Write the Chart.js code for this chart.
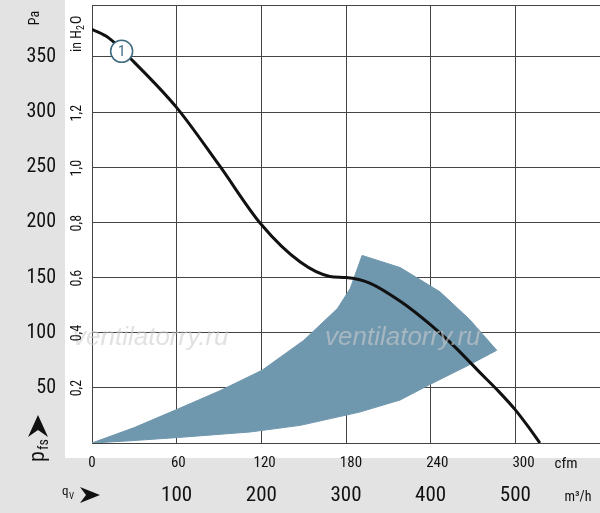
<!DOCTYPE html><html><head><meta charset="utf-8">
<script src="https://cdn.jsdelivr.net/npm/chart.js@4"></script>
<style>html,body{margin:0;padding:0;background:#fff}#w{width:600px;height:513px}</style></head><body>
<div id="w"><canvas id="c"></canvas></div>
<script>
// data (x: m³/h, y: Pa)
const curveQ = [0, 20, 50, 100, 150, 200, 246, 281, 300, 328, 365, 400, 430, 458, 480, 500, 515, 529];
const curveP = [375, 367, 345, 304, 252, 198, 164, 151, 150, 145, 128, 107, 86, 64, 47, 30, 15, 0];
const areaQ = [0, 50, 102, 150, 201, 250, 290, 305, 319, 364, 411, 446, 478, 446, 399, 364, 316, 246, 187, 102, 45, 0];
const areaP = [0, 14, 31, 47, 66, 93, 122, 140, 170, 159, 137, 112, 84, 71, 53, 39, 28, 16, 10, 5, 2, 0];
const paTicks = [50, 100, 150, 200, 250, 300, 350];
const inTicks = ['0,2', '0,4', '0,6', '0,8', '1,0', '1,2'];
const cfmTicks = [0, 60, 120, 180, 240, 300];
const m3hTicks = [100, 200, 300, 400, 500];
const FONT = "'Liberation Sans Narrow','Roboto Condensed','Liberation Sans',sans-serif";

const deco = {
  id: 'deco',
  beforeDraw(ch) {
    const c = ch.ctx;
    c.save();
    c.fillStyle = '#e3e3e3';
    c.fillRect(0, 0, 65, 513);
    c.fillRect(0, 458, 600, 55);
    c.restore();
  },
  afterDraw(ch) {
    const c = ch.ctx, x = ch.scales.x, y = ch.scales.y;
    c.save();
    c.font = "italic 26px 'Liberation Sans',sans-serif";
    c.fillStyle = 'rgba(205,205,205,0.6)';
    c.textBaseline = 'middle';
    c.fillText('ventilatorry.ru', 73, 338);
    c.fillText('ventilatorry.ru', 325, 338);
    c.fillStyle = '#111';
    c.font = '20px ' + FONT;
    c.textAlign = 'right';
    paTicks.forEach(v => c.fillText(String(v), 56, y.getPixelForValue(v)));
    c.font = '14px ' + FONT;
    inTicks.forEach((t, i) => {
      const pa = (i + 1) * 0.2 * 249.09;
      c.save(); c.translate(77, y.getPixelForValue(pa)); c.rotate(-Math.PI / 2);
      c.textAlign = 'center'; c.fillText(t, 0, 0); c.restore();
    });
    c.save(); c.translate(77, 52); c.rotate(-Math.PI / 2); c.textAlign = 'left';
    c.fillText('in H', 0, 0); const w = c.measureText('in H').width;
    c.font = '10px ' + FONT; c.fillText('2', w, 4); c.font = '14px ' + FONT; c.fillText('O', w + 6, 0); c.restore();
    c.save(); c.translate(35, 18); c.rotate(-Math.PI / 2); c.textAlign = 'center'; c.font = '14px ' + FONT; c.fillText('Pa', 0, 0); c.restore();
    c.save(); c.translate(38, 462); c.rotate(-Math.PI / 2); c.textAlign = 'left'; c.font = '22px ' + FONT; c.fillText('p', 0, 0);
    c.font = '14px ' + FONT; c.fillText('fs', 12, 6); c.restore();
    c.beginPath(); c.moveTo(38, 415); c.lineTo(28, 437); c.lineTo(38, 430); c.lineTo(48, 437); c.closePath(); c.fill();
    c.font = '15px ' + FONT; c.textAlign = 'center';
    cfmTicks.forEach(v => c.fillText(String(v), x.getPixelForValue(v * 1.699), 463));
    c.fillText('cfm', 566, 464);
    c.font = '21px ' + FONT;
    m3hTicks.forEach(v => c.fillText(String(v), x.getPixelForValue(v), 496));
    c.font = '14px ' + FONT; c.fillText('m³/h', 578, 497);
    c.font = '13px ' + FONT; c.textAlign = 'left'; c.fillText('q', 62, 492); c.font = '9px ' + FONT; c.fillText('V', 69, 497);
    c.beginPath(); c.moveTo(100, 495); c.lineTo(80, 487); c.lineTo(86, 495); c.lineTo(80, 503); c.closePath(); c.fill();
    const px = x.getPixelForValue(35), py = y.getPixelForValue(355);
    c.beginPath(); c.arc(px, py, 11, 0, Math.PI * 2); c.fillStyle = '#fff'; c.fill();
    c.lineWidth = 1.5; c.strokeStyle = '#3d6a80'; c.stroke();
    c.fillStyle = '#3d6a80'; c.font = '15px ' + FONT; c.textAlign = 'center'; c.fillText('1', px, py + 1);
    c.restore();
  }
};

new Chart(document.getElementById('c'), {
  type: 'scatter',
  data: {
    datasets: [
      { data: areaQ.map((q, i) => ({ x: q, y: areaP[i] })), showLine: true, fill: 'shape', backgroundColor: '#6f97ae', borderColor: '#6f97ae', borderWidth: 1, pointRadius: 0, tension: 0, order: 2 },
      { data: curveQ.map((q, i) => ({ x: q, y: curveP[i] })), showLine: true, borderColor: '#111', borderWidth: 3, pointRadius: 0, cubicInterpolationMode: 'monotone', order: 1 }
    ]
  },
  options: {
    responsive: true, maintainAspectRatio: false, animation: false,
    layout: { padding: { left: 92, top: 5, right: 0, bottom: 70 } },
    plugins: { legend: { display: false }, tooltip: { enabled: false } },
    scales: {
      x: { type: 'linear', min: 0, max: 600, ticks: { display: false, stepSize: 100 }, grid: { color: '#444', lineWidth: 1, drawTicks: false }, border: { display: false } },
      y: { type: 'linear', min: 0, max: 397, ticks: { display: false, stepSize: 50 }, grid: { color: '#444', lineWidth: 1, drawTicks: false }, border: { display: false } }
    }
  },
  plugins: [deco]
});
</script></body></html>
